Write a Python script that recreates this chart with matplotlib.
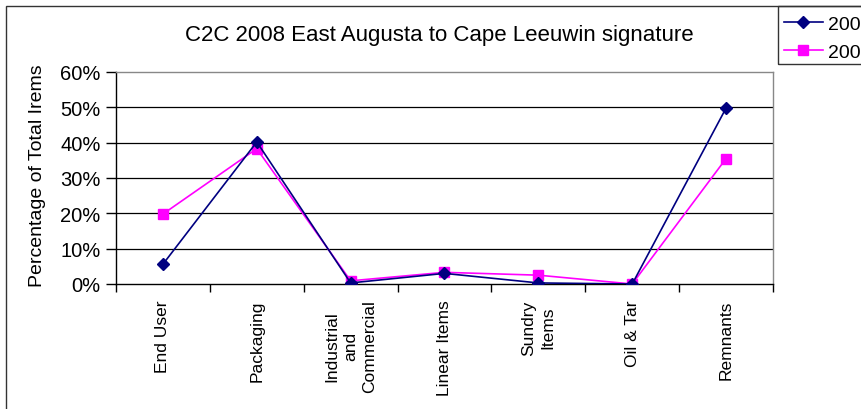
import matplotlib
matplotlib.use("Agg")
import matplotlib.pyplot as plt
from matplotlib.patches import Rectangle
from matplotlib.ticker import FuncFormatter, MultipleLocator, FixedLocator

plt.rcParams['font.family'] = ['Liberation Sans', 'DejaVu Sans']

categories = ["End User", "Packaging", "Industrial\nand\nCommercial", "Linear Items",
              "Sundry\nItems", "Oil & Tar", "Remnants"]
values_2007 = [5.6, 40.2, 0.3, 3.0, 0.3, 0.0, 49.8]
values_2008 = [19.8, 38.3, 0.9, 3.3, 2.5, 0.0, 35.5]
series_names = ["2007", "2008"]
title = "C2C 2008 East Augusta to Cape Leeuwin signature"
ylabel = "Percentage of Total Irems"

W, H = 862, 410
fig = plt.figure(figsize=(W / 100, H / 100), dpi=100)
ax = fig.add_axes([116 / W, 1 - 285 / H, (773 - 116) / W, (285 - 73) / H])

x = list(range(len(categories)))
ax.plot(x, values_2007, color="#000080", marker="D", markersize=6.5, linewidth=1.2,
        label=series_names[0], zorder=4)
ax.plot(x, values_2008, color="#FF00FF", marker="s", markersize=7, linewidth=1.2,
        label=series_names[1], zorder=3)

ax.set_xlim(-0.5, len(categories) - 0.5)
ax.set_ylim(0, 60)
ax.yaxis.set_major_locator(MultipleLocator(10))
ax.yaxis.set_major_formatter(FuncFormatter(lambda v, p: f"{int(round(v))}%"))
ax.tick_params(axis='y', labelsize=14.5, length=7, width=1, direction='out', pad=4)
for v in range(10, 60, 10):
    ax.axhline(v, color="black", linewidth=0.9, zorder=1)

ax.set_xticks(x)
ax.set_xticklabels(categories, rotation=90, fontsize=12.5, linespacing=1.3,
                   va='top', ha='center', multialignment='center')
ax.tick_params(axis='x', which='major', length=0, pad=11)
ax.xaxis.set_minor_locator(FixedLocator([i - 0.5 for i in range(len(categories) + 1)]))
ax.tick_params(axis='x', which='minor', length=6, width=1, direction='out')

for s in ["top", "right"]:
    ax.spines[s].set_color("#888888")
    ax.spines[s].set_linewidth(1.0)
for s in ["left", "bottom"]:
    ax.spines[s].set_color("black")
    ax.spines[s].set_linewidth(1.0)

fig.text(38 / W, 1 - 176 / H, ylabel, rotation=90, fontsize=14, ha='center', va='center')
fig.text(439 / W, 1 - 35 / H, title, fontsize=16, ha='center', va='center')

# outer chart border
fig.patches.append(Rectangle((6.5 / W, -0.1), 1.2, 1 - 6.5 / H + 0.1, transform=fig.transFigure,
                             fill=False, edgecolor="#333333", linewidth=1.0))
# legend box
fig.patches.append(Rectangle((778 / W, 1 - 65 / H), 0.2, (65 - 6.5) / H, transform=fig.transFigure,
                             fill=False, edgecolor="#333333", linewidth=1.0))
fig.legend(loc='upper left', bbox_to_anchor=(784 / W, 1 - 16 / H), frameon=False,
           fontsize=14, handlelength=2.0, handletextpad=0.25, labelspacing=0.55,
           borderpad=0.0, borderaxespad=0.0)

fig.savefig("out.png", dpi=100)
